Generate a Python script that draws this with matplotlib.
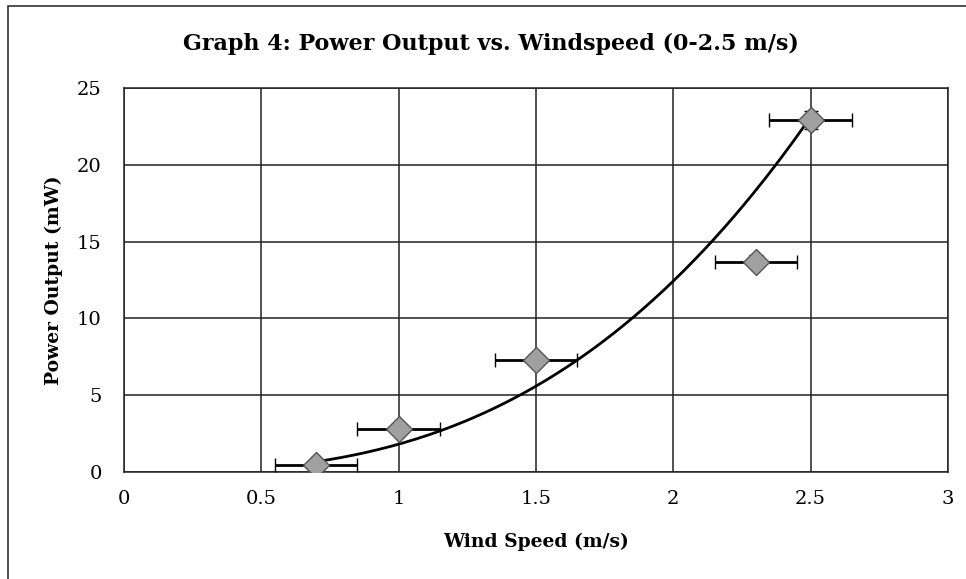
import numpy as np
import matplotlib
matplotlib.use("Agg")
import matplotlib.pyplot as plt
from matplotlib.patches import Rectangle

# Data
wind_speed = [0.7, 1.0, 1.5, 2.3, 2.5]
power_mw = [0.45, 2.8, 7.3, 13.7, 22.9]
x_err = [0.15, 0.15, 0.15, 0.15, 0.15]
y_err = [0.15, 0.2, 0.2, 0.4, 0.6]
x_ticks = [0, 0.5, 1, 1.5, 2, 2.5, 3]
x_tick_labels = ["0", "0.5", "1", "1.5", "2", "2.5", "3"]
y_ticks = [0, 5, 10, 15, 20, 25]

plt.rcParams['font.family'] = ['DejaVu Serif']

fig = plt.figure(figsize=(9.66, 5.79), dpi=100)
ax = fig.add_axes([124/966, 1-472/579, (948-124)/966, (472-88)/579])

# outer chart border
fig.patches.append(Rectangle((8/966, -0.05), 1.2, 1-6/579+0.05, transform=fig.transFigure,
                             fill=False, edgecolor='#333333', linewidth=1.2))

# power-law trendline (fit in log-log space)
b, ln_a = np.polyfit(np.log(wind_speed), np.log(power_mw), 1)
xs = np.linspace(min(wind_speed), max(wind_speed), 200)
ax.plot(xs, np.exp(ln_a) * xs ** b, color='black', linewidth=2, zorder=3)

ax.errorbar(wind_speed, power_mw, xerr=x_err, yerr=y_err, fmt='D', markersize=13,
            markerfacecolor='#a0a0a0', markeredgecolor='#555555', markeredgewidth=1,
            ecolor='black', elinewidth=2, capsize=5, capthick=2, zorder=4)

ax.set_xlim(0, 3)
ax.set_ylim(0, 25)
ax.set_xticks(x_ticks)
ax.set_xticklabels(x_tick_labels)
ax.set_yticks(y_ticks)
ax.grid(True, color='#222222', linewidth=1.1)
ax.set_axisbelow(True)
for s in ax.spines.values():
    s.set_color('#222222')
    s.set_linewidth(1.1)
ax.tick_params(axis='both', labelsize=14, length=0)
ax.tick_params(axis='x', pad=13)
ax.tick_params(axis='y', pad=16)

ax.set_xlabel("Wind Speed (m/s)", fontsize=13.5, fontweight='bold', labelpad=18)
ax.set_ylabel("Power Output (mW)", fontsize=13.5, fontweight='bold', labelpad=10)
fig.text(491/966, 1-44/579, "Graph 4: Power Output vs. Windspeed (0-2.5 m/s)",
         ha='center', va='center', fontsize=16, fontweight='bold')

fig.savefig("out.png", dpi=100)
